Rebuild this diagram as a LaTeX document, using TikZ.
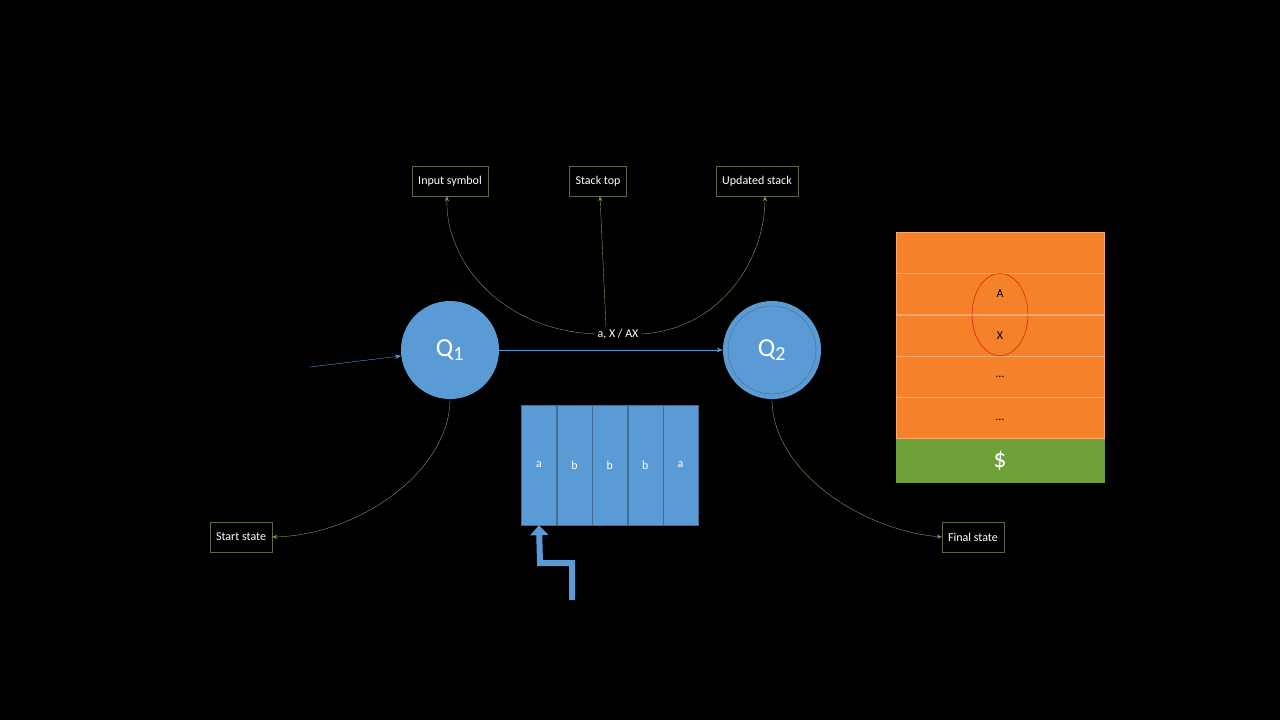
\documentclass[tikz,border=0pt]{standalone}
\usepackage{fontspec}
\setmainfont{Carlito}
\usetikzlibrary{arrows.meta,positioning}
\definecolor{qblue}{HTML}{5B9BD5}
\definecolor{qorange}{HTML}{F5822A}
\definecolor{qgreen}{HTML}{70A03A}
\definecolor{tagline}{HTML}{5A6A48}
\definecolor{tagarrow}{HTML}{7F9A62}
\begin{document}
\begin{tikzpicture}[x=1pt,y=-1pt,font=\fontsize{12}{14}\selectfont,
	state node/.style={circle,fill=qblue,minimum size=98pt,inner sep=0pt,text=white,font=\fontsize{26}{28}\selectfont},
	tag node/.style={draw=tagline,text=white,minimum height=30pt,inner xsep=6pt},
	tag arrow/.style={-{Stealth[length=5pt,width=4pt]},draw=tagarrow,thin},
	cell node/.style={draw=qblue!70!black,fill=qblue,minimum width=35pt,minimum height=120pt,inner sep=0pt,text=white},
	row node/.style={draw=qorange!70!white,fill=qorange,minimum width=208pt,minimum height=41pt,inner sep=0pt}]

	\fill[black] (0,0) rectangle (1280,720);

	% states
	\node[state node] (q1) at (450,350) {Q\textsubscript{\fontsize{20}{20}\selectfont 1}};
	\node[state node] (q2) at (772,350) {Q\textsubscript{\fontsize{20}{20}\selectfont 2}};
	\draw[qblue!70!black,thin] (q2) circle (44);
	\coordinate (in) at (310,367);
	\draw[-{Stealth[length=6pt]},qblue,thin] (in) -- (q1);
	\draw[-{Stealth[length=6pt]},qblue,thin] (q1) -- (q2);
	\node[text=white,fill=black,inner sep=2pt] (lab) at (618,334) {a, X / AX};

	% tags
	\node[tag node] (input) at (450,181) {Input symbol};
	\node[tag node] (top) at (598,181) {Stack top};
	\node[tag node] (upd) at (757,181) {Updated stack};
	\node[tag node] (start) at (241,537) {Start state};
	\node[tag node] (final) at (973,537) {Final state};
	\draw[tag arrow] (lab.west) .. controls (500,330) and (445,260) .. ([xshift=-3pt]input.south);
	\draw[tag arrow] ([xshift=-12pt]lab.north) -- ([xshift=2pt]top.south);
	\draw[tag arrow] (lab.east) .. controls (720,330) and (765,260) .. ([xshift=8pt]upd.south);
	\draw[tag arrow] (q1.south) .. controls (450,470) and (360,535) .. (start.east);
	\draw[tag arrow] (q2.south) .. controls (772,470) and (860,530) .. (final.west);

	% tape
	\node[cell node] (c1) at (539,465) {a};
	\node[cell node,right=0pt of c1] (c2) {b};
	\node[cell node,right=0pt of c2] (c3) {b};
	\node[cell node,right=0pt of c3] (c4) {b};
	\node[cell node,right=0pt of c4] (c5) {a};
	\coordinate (head) at (572,600);
	\draw[qblue,line width=6pt,-{Triangle[length=10pt,width=18pt]}] (head) -- (572,563) -- (540,563) -- (c1.south);

	% stack
	\node[row node] (s1) at (1000,252.5) {};
	\node[row node,below=0pt of s1] (s2) {A};
	\node[row node,below=0pt of s2] (s3) {X};
	\node[row node,below=0pt of s3] (s4) {\dots};
	\node[row node,below=0pt of s4] (s5) {\raisebox{-4pt}{\dots}};
	\node[row node,fill=qgreen,draw=qgreen,minimum height=43pt,below=0pt of s5,text=white,font=\fontsize{26}{28}\selectfont] (s6) {\$};
	\draw[red!85!black,thin] (s2.south) ellipse (28 and 41);
\end{tikzpicture}
\end{document}
